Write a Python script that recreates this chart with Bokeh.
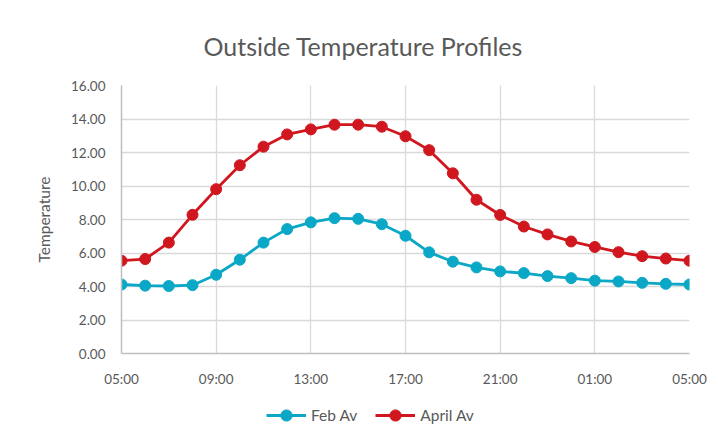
from bokeh.plotting import figure
from bokeh.layouts import column
from bokeh.models import FixedTicker, Range1d, Legend, LegendItem, Title, NumeralTickFormatter
from bokeh.embed import file_html
from bokeh.resources import INLINE

hours = ["05:00", "06:00", "07:00", "08:00", "09:00", "10:00", "11:00", "12:00",
         "13:00", "14:00", "15:00", "16:00", "17:00", "18:00", "19:00", "20:00",
         "21:00", "22:00", "23:00", "00:00", "01:00", "02:00", "03:00", "04:00", "05:00"]
feb_av = [4.12, 4.05, 4.03, 4.08, 4.70, 5.60, 6.62, 7.43, 7.83, 8.08, 8.04, 7.72, 7.03,
          6.04, 5.48, 5.14, 4.90, 4.80, 4.62, 4.50, 4.35, 4.30, 4.22, 4.16, 4.12]
april_av = [5.54, 5.64, 6.62, 8.28, 9.81, 11.24, 12.35, 13.08, 13.38, 13.66, 13.66, 13.54,
            12.97, 12.14, 10.76, 9.18, 8.27, 7.58, 7.11, 6.69, 6.36, 6.05, 5.81, 5.67, 5.54]
series_names = ["Feb Av", "April Av"]
tick_positions = [0, 4, 8, 12, 16, 20, 24]
y_ticks = [0, 2, 4, 6, 8, 10, 12, 14, 16]

x = list(range(len(hours)))
FONT = "Lato"
GREY = "#595959"
TEAL = "#0AA8C6"
RED = "#D0161E"

W = 717
H_MAIN = 390
H_LEG = 36

p = figure(width=W, height=H_MAIN, output_backend="svg", toolbar_location=None,
           x_range=Range1d(0, 24), y_range=Range1d(0, 16),
           min_border_left=121, min_border_right=28, min_border_top=85,
           min_border_bottom=H_MAIN - 353)
p.outline_line_color = None
p.background_fill_color = "white"
p.border_fill_color = "white"

t = Title(text="Outside Temperature Profiles", align="left", text_font=FONT,
          text_font_size="25px", text_font_style="normal", text_color=GREY,
          offset=82, standoff=50)
p.add_layout(t, "above")

p.xaxis.ticker = FixedTicker(ticks=tick_positions)
p.xaxis.major_label_overrides = {i: hours[i] for i in tick_positions}
p.yaxis.ticker = FixedTicker(ticks=y_ticks)
p.yaxis.formatter = NumeralTickFormatter(format="0.00")

for ax in (p.xaxis, p.yaxis):
    ax.major_tick_line_color = None
    ax.minor_tick_line_color = None
    ax.major_tick_out = 0
    ax.major_tick_in = 0
    ax.axis_line_color = "#BFBFBF"
    ax.axis_line_width = 1.5
    ax.major_label_text_font = FONT
    ax.major_label_text_font_size = "13.5px"
    ax.major_label_text_color = GREY

p.xaxis.major_label_standoff = 17
p.yaxis.major_label_standoff = 16
p.yaxis.axis_label = "Temperature"
p.yaxis.axis_label_text_font = FONT
p.yaxis.axis_label_text_font_size = "15.5px"
p.yaxis.axis_label_text_font_style = "normal"
p.yaxis.axis_label_text_color = GREY
p.yaxis.axis_label_standoff = 15

p.xgrid.grid_line_color = "#D9D9D9"
p.ygrid.grid_line_color = "#D9D9D9"
p.xgrid.grid_line_width = 1.3
p.ygrid.grid_line_width = 1.3

p.line(x, feb_av, line_color=TEAL, line_width=2.8)
p.scatter(x, feb_av, size=11, fill_color=TEAL, line_color=TEAL)
p.line(x, april_av, line_color=RED, line_width=2.8)
p.scatter(x, april_av, size=11, fill_color=RED, line_color=RED)

# legend strip below the chart (its own renderers sit outside its visible range)
q = figure(width=W, height=H_LEG, output_backend="svg", toolbar_location=None,
           x_range=Range1d(-100, -99), y_range=Range1d(-100, -99),
           min_border_left=121, min_border_right=28, min_border_top=0, min_border_bottom=0)
q.axis.visible = False
q.grid.visible = False
q.outline_line_color = None
q.border_fill_color = "white"
q.background_fill_color = "white"
lf = q.line(x, feb_av, line_color=TEAL, line_width=2.8)
cf = q.scatter(x, feb_av, size=11, fill_color=TEAL, line_color=TEAL)
la = q.line(x, april_av, line_color=RED, line_width=2.8)
ca = q.scatter(x, april_av, size=11, fill_color=RED, line_color=RED)

legend = Legend(items=[LegendItem(label=series_names[0], renderers=[lf, cf]),
                       LegendItem(label=series_names[1], renderers=[la, ca])],
                orientation="horizontal", location=(145, -3),
                glyph_width=40, glyph_height=28, label_height=14, label_standoff=5, spacing=18,
                padding=0, margin=0, border_line_color=None, background_fill_alpha=0,
                label_text_font=FONT, label_text_font_size="15.5px", label_text_color=GREY)
q.add_layout(legend, "center")

layout = column(p, q, spacing=0)
open("out.html", "w").write(file_html(layout, INLINE))
